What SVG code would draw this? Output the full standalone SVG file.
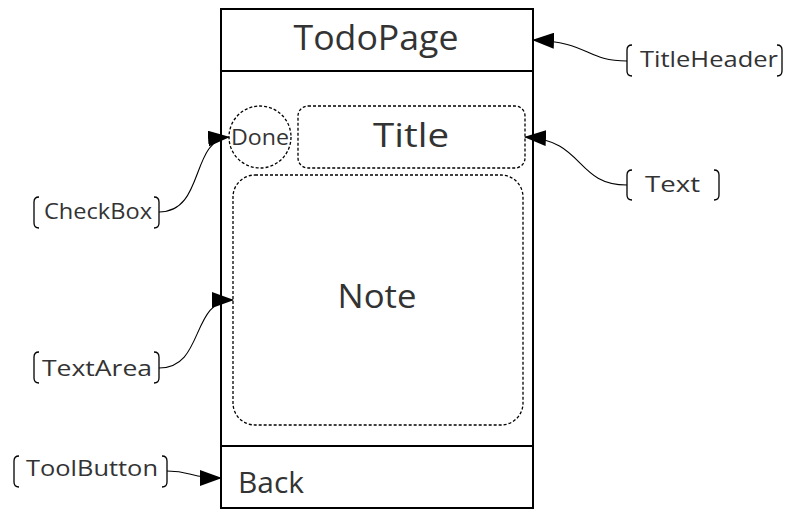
<svg xmlns="http://www.w3.org/2000/svg" width="800" height="520" viewBox="0 0 800 520">
<defs>
<marker id="arr" markerUnits="userSpaceOnUse" markerWidth="22" markerHeight="16" viewBox="0 0 22 16" refX="21" refY="8" orient="auto">
<path d="M0,0 L22,8 L0,16 Z" fill="#000"/>
</marker>
<style>
.frame{fill:#fff;stroke:#000;stroke-width:2}
.line{stroke:#000;stroke-width:2;fill:none}
.dot{fill:none;stroke:#000;stroke-width:1.3;stroke-dasharray:3,2}
.t{font-family:"Open Sans","Liberation Sans",sans-serif;fill:#333;text-anchor:middle}
.lbl{font-family:"Open Sans","Liberation Sans",sans-serif;fill:#333;font-size:22px}
.br{fill:none;stroke:#000;stroke-width:1.3}
.con{fill:none;stroke:#000;stroke-width:1.1;marker-end:url(#arr)}
</style>
</defs>
<rect width="800" height="520" fill="#fff"/>
<g id="page">
<rect class="frame" x="221" y="9" width="312" height="499"/>
<line class="line" x1="221" y1="71" x2="533" y2="71"/>
<line class="line" x1="221" y1="446" x2="533" y2="446"/>
<text class="t" x="376" y="50" font-size="34" textLength="165" lengthAdjust="spacingAndGlyphs">TodoPage</text>
</g>
<g id="done">
<circle class="dot" cx="260" cy="137" r="31"/>
<text class="t" x="260" y="145" font-size="22" textLength="58" lengthAdjust="spacingAndGlyphs">Done</text>
</g>
<g id="title">
<rect class="dot" x="298" y="106" width="227" height="62" rx="10"/>
<text class="t" x="411" y="147" font-size="32" textLength="76" lengthAdjust="spacingAndGlyphs">Title</text>
</g>
<g id="note">
<rect class="dot" x="233" y="175" width="290" height="250" rx="22"/>
<text class="t" x="377" y="308" font-size="32" textLength="79" lengthAdjust="spacingAndGlyphs">Note</text>
</g>
<g id="back">
<text class="t" x="271" y="493" font-size="30" textLength="66" lengthAdjust="spacingAndGlyphs">Back</text>
</g>
<g id="titleheader">
<path class="br" d="M632,45 Q627,45 627,50 L627,71 Q627,76 632,76 M777,45 Q782,45 782,50 L782,71 Q782,76 777,76"/>
<text class="lbl" x="640" y="67" textLength="138" lengthAdjust="spacingAndGlyphs">TitleHeader</text>
</g>
<g id="text">
<path class="br" d="M632,170 Q627,170 627,175 L627,195 Q627,200 632,200 M714,170 Q719,170 719,175 L719,195 Q719,200 714,200"/>
<text class="lbl" x="645" y="192" textLength="55" lengthAdjust="spacingAndGlyphs">Text</text>
</g>
<g id="checkbox">
<path class="br" d="M39,197 Q34,197 34,202 L34,223 Q34,228 39,228 M154,197 Q159,197 159,202 L159,223 Q159,228 154,228"/>
<text class="lbl" x="44" y="219" textLength="108" lengthAdjust="spacingAndGlyphs">CheckBox</text>
</g>
<g id="textarea">
<path class="br" d="M39,352 Q34,352 34,357 L34,378 Q34,383 39,383 M154,352 Q159,352 159,357 L159,378 Q159,383 154,383"/>
<text class="lbl" x="42" y="376" textLength="110" lengthAdjust="spacingAndGlyphs">TextArea</text>
</g>
<g id="toolbutton">
<path class="br" d="M19,456 Q14,456 14,461 L14,482 Q14,487 19,487 M162,456 Q167,456 167,461 L167,482 Q167,487 162,487"/>
<text class="lbl" x="26" y="476" textLength="132" lengthAdjust="spacingAndGlyphs">ToolButton</text>
</g>
<g id="connectors">
<path class="con" d="M627,61 C585,61 590,42 533,40"/>
<path class="con" d="M627,185 C575,185 585,140 525,137"/>
<path class="con" d="M159,212 C205,212 190,140 229,137"/>
<path class="con" d="M159,368 C205,368 190,300 233,300"/>
<path class="con" d="M167,471 C192,471 190,478 221,478"/>
</g>
</svg>
